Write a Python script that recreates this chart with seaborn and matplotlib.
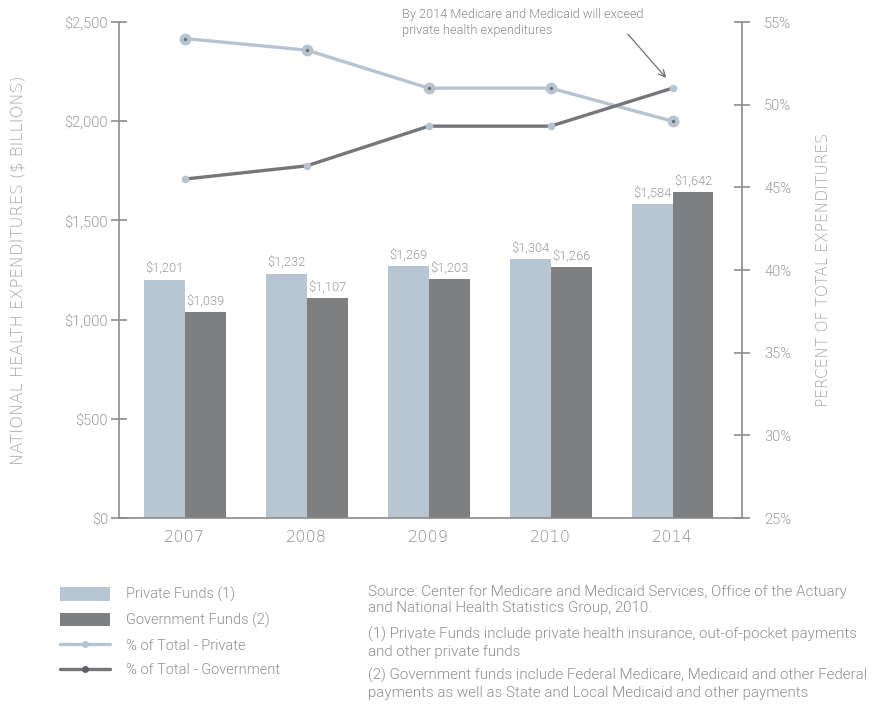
import matplotlib
matplotlib.use("Agg")
import matplotlib.pyplot as plt
import seaborn as sns
import pandas as pd
import numpy as np
from matplotlib.patches import Patch
from matplotlib.lines import Line2D

# ---- data ----
years = ["2007", "2008", "2009", "2010", "2014"]
private_funds = [1201, 1232, 1269, 1304, 1584]
government_funds = [1039, 1107, 1203, 1266, 1642]
pct_private = [54.0, 53.3, 51.0, 51.0, 49.0]
pct_government = [45.5, 46.3, 48.7, 48.7, 51.0]
left_ticks = [0, 500, 1000, 1500, 2000, 2500]
left_ticklabels = ["$0", "$500", "$1,000", "$1,500", "$2,000", "$2,500"]
right_ticks = [25, 30, 35, 40, 45, 50, 55]
right_ticklabels = ["25%", "30%", "35%", "40%", "45%", "50%", "55%"]

sns.set_style("white")
plt.rcParams["font.family"] = ["Roboto", "DejaVu Sans"]
plt.rcParams["font.weight"] = 300

C_PRIV = "#b8c6d3"
C_GOV = "#7e7f81"
C_PRIV_LINE = "#b6c4d2"
C_GOV_LINE = "#757679"
C_TEXT = "#9b9b9b"
C_LABEL = "#a6a6a6"
C_SPINE = "#8c8c8c"

W, H = 884, 708
fig = plt.figure(figsize=(W / 100, H / 100), dpi=100)
ax = fig.add_axes([119 / W, 1 - 518 / H, (742 - 119) / W, (518 - 22) / H])

bars = pd.DataFrame({
    "year": years * 2,
    "value": private_funds + government_funds,
    "series": ["Private Funds (1)"] * 5 + ["Government Funds (2)"] * 5,
})
sns.barplot(data=bars, x="year", y="value", hue="series", order=years,
            hue_order=["Private Funds (1)", "Government Funds (2)"],
            palette=[C_PRIV, C_GOV], width=0.672, saturation=1,
            errorbar=None, legend=False, ax=ax, linewidth=0)

# bar labels
for cont in ax.containers:
    labels = [f"${v:,.0f}" for v in cont.datavalues]
    ax.bar_label(cont, labels=labels, padding=3, fontsize=9.3, color=C_TEXT)

ax.set_ylim(0, 2500)
ax.set_yticks(left_ticks)
ax.set_yticklabels(left_ticklabels)
ax.set_xlabel("")
ax.set_ylabel("NATIONAL HEALTH EXPENDITURES ($ BILLIONS)", fontsize=11.8,
              color=C_LABEL, family="DejaVu Sans", weight=200)
ax.yaxis.set_label_coords((26 - 119) / 623, 0.5)
ax.tick_params(axis="y", direction="inout", length=12, width=1.2,
               color=C_SPINE, labelcolor=C_TEXT, labelsize=10.5, pad=2)
ax.tick_params(axis="x", length=0, labelcolor=C_TEXT, labelsize=11, pad=9)
for s in ["top", "right"]:
    ax.spines[s].set_visible(False)
for s in ["left", "bottom"]:
    ax.spines[s].set_color(C_SPINE)
    ax.spines[s].set_linewidth(1.2)

# lines on secondary axis
ax2 = ax.twinx()
xpos = np.arange(len(years))
lines = pd.DataFrame({"x": xpos, "priv": pct_private, "gov": pct_government})
sns.lineplot(data=lines, x="x", y="priv", ax=ax2, color=C_PRIV_LINE, lw=2.4,
             marker="o", markersize=8.5, markerfacecolor=C_PRIV_LINE,
             markeredgewidth=0, zorder=3)
sns.scatterplot(data=lines, x="x", y="priv", ax=ax2, color="#6e6f72", s=6,
                linewidth=0, zorder=4)
sns.lineplot(data=lines, x="x", y="gov", ax=ax2, color=C_GOV_LINE, lw=2.4,
             marker="o", markersize=5.5, markerfacecolor=C_PRIV_LINE,
             markeredgewidth=0, zorder=3)

ax2.set_ylim(25, 55)
ax2.set_yticks(right_ticks)
ax2.set_yticklabels(right_ticklabels)
ax2.set_xlabel("")
ax2.set_ylabel("PERCENT OF TOTAL EXPENDITURES", fontsize=11.2, color=C_LABEL,
               family="DejaVu Sans", weight=200)
ax2.yaxis.set_label_coords((816 - 119) / 623, 0.5)
ax2.tick_params(axis="y", direction="inout", length=12, width=1.2,
                color=C_SPINE, labelcolor=C_TEXT, labelsize=10.5, pad=10)
for s in ["top", "left", "bottom"]:
    ax2.spines[s].set_visible(False)
ax2.spines["right"].set_color(C_SPINE)
ax2.spines["right"].set_linewidth(1.2)

ax.set_xlim(-0.54, 4.57)
ax2.set_xlim(-0.54, 4.57)
ax.set_xticks(xpos)
ax.set_xticklabels(years, family="DejaVu Sans", fontsize=11.6, weight=200,
                   color="#8f8f8f")

# annotation
ax2.annotate("By 2014 Medicare and Medicaid will exceed\nprivate health expenditures",
             xy=(668 / W, 1 - 80 / H), xycoords="figure fraction",
             xytext=(402 / W, 1 - 8 / H), textcoords="figure fraction",
             fontsize=9.2, color="#8c8c8c", va="top", ha="left",
             linespacing=1.3)
ax2.annotate("", xy=(668 / W, 1 - 80 / H), xycoords="figure fraction",
             xytext=(626 / W, 1 - 32 / H), textcoords="figure fraction",
             arrowprops=dict(arrowstyle="->", color="#6e6e6e", lw=0.9,
                             mutation_scale=12))

# legend
handles = [
    Patch(facecolor=C_PRIV, edgecolor="none"),
    Patch(facecolor=C_GOV, edgecolor="none"),
    Line2D([0], [0], color=C_PRIV_LINE, lw=2.4, marker="o", markersize=5,
           markerfacecolor=C_PRIV_LINE, markeredgewidth=0),
    Line2D([0], [0], color=C_GOV_LINE, lw=2.4, marker="o", markersize=5,
           markerfacecolor="#5f6063", markeredgewidth=0),
]
labels = ["Private Funds (1)", "Government Funds (2)", "% of Total - Private",
          "% of Total - Government"]
fig.legend(handles, labels, loc="upper left",
           bbox_to_anchor=(47 / W, 1 - 574 / H), frameon=False,
           fontsize=10.5, labelcolor="#8f8f8f", handlelength=3.4,
           handleheight=1.0, handletextpad=1.15, labelspacing=0.7)

# source notes
notes = [
    ("Source: Center for Medicare and Medicaid Services, Office of the Actuary\n"
     "and National Health Statistics Group, 2010.", 585),
    ("(1) Private Funds include private health insurance, out-of-pocket payments\n"
     "and other private funds", 627),
    ("(2) Government funds include Federal Medicare, Medicaid and other Federal\n"
     "payments as well as State and Local Medicaid and other payments", 668),
]
for txt, ytop in notes:
    fig.text(368 / W, 1 - ytop / H, txt, fontsize=10.9, color="#8f8f8f",
             va="top", ha="left", linespacing=1.22)

fig.savefig("out.png", dpi=100)
